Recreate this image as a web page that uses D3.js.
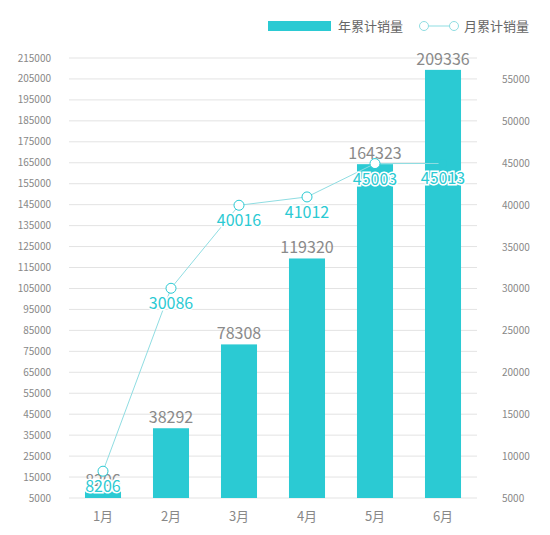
<!DOCTYPE html>
<html><head><meta charset="utf-8">
<script src="https://cdn.jsdelivr.net/npm/d3@7/dist/d3.min.js"></script>
<style>body{margin:0;background:#fff;font-family:"Noto Sans CJK SC","Noto Sans",sans-serif}</style>
</head><body><svg id="c" width="550" height="535"></svg>
<script>
const categories=["1月","2月","3月","4月","5月","6月"];
const yearTotal=[8206,38292,78308,119320,164323,209336];
const monthTotal=[8206,30086,40016,41012,45003,45013];
const leftTicks=d3.range(5000,215001,10000);
const rightTicks=d3.range(5000,55001,5000);
(function(){
const teal="#2bcad3";
const svg=d3.select("#c");
const pTop=58,pBottom=498,pLeft=69,pRight=477;
const x=d3.scaleBand().domain(categories).range([pLeft,pRight]).paddingInner(0.47).paddingOuter(0.235);
const yL=d3.scaleLinear().domain([5000,215000]).range([pBottom,pTop]);
const yR=d3.scaleLinear().domain([5000,57630]).range([pBottom,pTop]);
svg.append("g").selectAll("line").data(leftTicks).join("line")
 .attr("x1",pLeft).attr("x2",pRight).attr("y1",d=>yL(d)).attr("y2",d=>yL(d))
 .attr("stroke","#e3e3e3");
svg.append("g").selectAll("text").data(leftTicks).join("text")
 .attr("x",51).attr("y",d=>yL(d)+3.5).attr("text-anchor","end")
 .attr("font-size",10).attr("fill","#888").text(d=>d);
svg.append("g").selectAll("text").data(rightTicks).join("text")
 .attr("x",502).attr("y",d=>yR(d)+3.5).attr("text-anchor","start")
 .attr("font-size",10).attr("fill","#888").text(d=>d);
svg.append("g").selectAll("text").data(categories).join("text")
 .attr("x",d=>x(d)+x.bandwidth()/2).attr("y",pBottom+23).attr("text-anchor","middle")
 .attr("font-size",13).attr("fill","#888").text(d=>d);
svg.append("g").selectAll("rect").data(yearTotal).join("rect")
 .attr("x",(d,i)=>x(categories[i])).attr("width",x.bandwidth())
 .attr("y",d=>yL(d)).attr("height",d=>pBottom-yL(d)).attr("fill",teal);
svg.append("g").selectAll("text").data(yearTotal).join("text")
 .attr("x",(d,i)=>x(categories[i])+x.bandwidth()/2).attr("y",d=>yL(d)-5)
 .attr("text-anchor","middle").attr("font-size",16).attr("fill","#8a8a8a").text(d=>d);
const cx=i=>x(categories[i])+x.bandwidth()/2;
svg.append("path").datum(monthTotal)
 .attr("d",d3.line().x((d,i)=>cx(i)).y(d=>yR(d)))
 .attr("fill","none").attr("stroke","#8fdde2").attr("stroke-width",1);
svg.append("g").selectAll("circle").data(monthTotal).join("circle")
 .attr("cx",(d,i)=>cx(i)).attr("cy",d=>yR(d)).attr("r",(d,i)=>i==5?4:5)
 .attr("fill",(d,i)=>i==5?teal:"#fff").attr("stroke",teal).attr("stroke-width",1);
svg.append("g").selectAll("text").data(monthTotal).join("text")
 .attr("x",(d,i)=>cx(i)).attr("y",d=>yR(d)+21)
 .attr("text-anchor","middle").attr("font-size",16).attr("fill",teal)
 .attr("stroke","#fff").attr("stroke-width",3).attr("paint-order","stroke").text(d=>d);
svg.append("rect").attr("x",268).attr("y",21).attr("width",63).attr("height",10).attr("fill",teal);
svg.append("text").attr("x",338).attr("y",31).attr("font-size",13).attr("fill","#666").text("年累计销量");
svg.append("line").attr("x1",420).attr("x2",458).attr("y1",26).attr("y2",26).attr("stroke","#8fdde2");
[424,454].forEach(v=>svg.append("circle").attr("cx",v).attr("cy",26).attr("r",4.5).attr("fill","#fff").attr("stroke","#8fdde2"));
svg.append("text").attr("x",464).attr("y",31).attr("font-size",13).attr("fill","#666").text("月累计销量");
})();
</script></body></html>
